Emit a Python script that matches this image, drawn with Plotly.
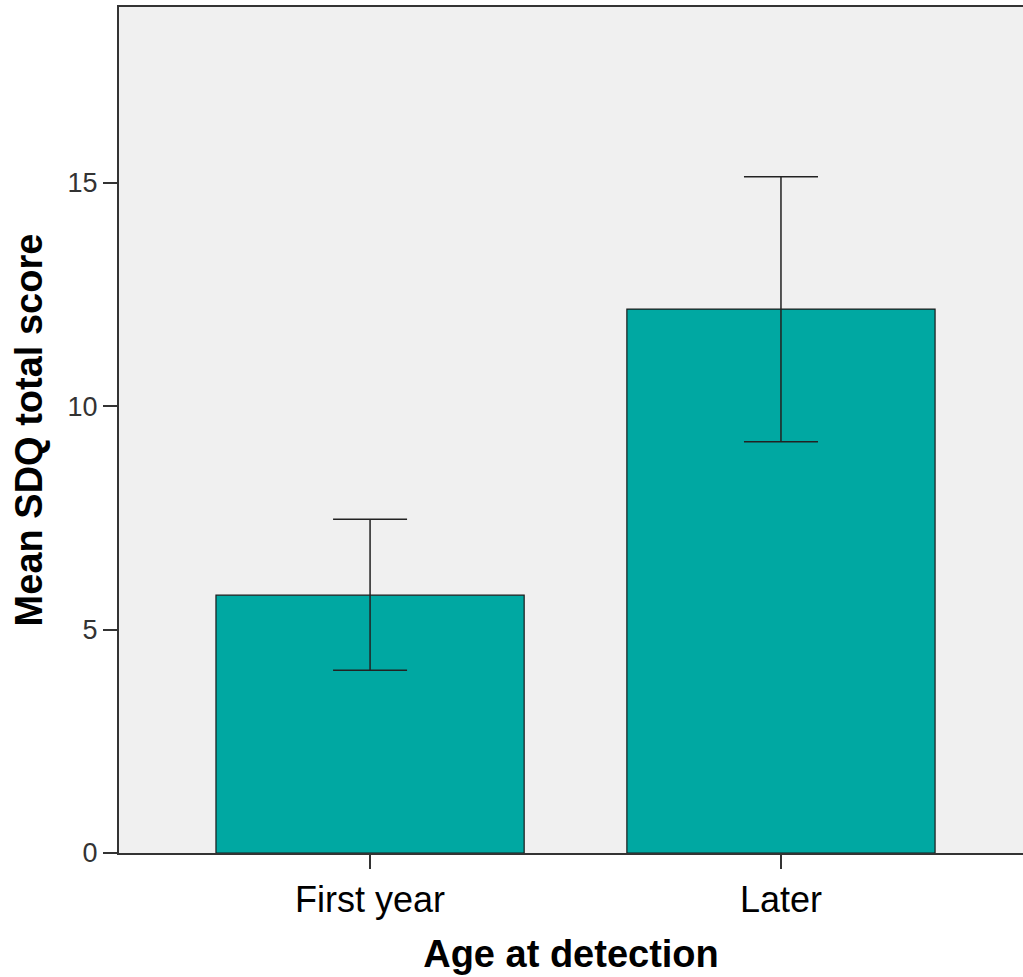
import plotly.graph_objects as go

categories = ["First year", "Later"]
means = [5.77, 12.17]
upper = [7.47, 15.13]
lower = [4.09, 9.20]

err_plus = [u - m for u, m in zip(upper, means)]
err_minus = [m - l for m, l in zip(means, lower)]

fig = go.Figure()
fig.add_trace(go.Bar(
    x=categories, y=means, width=0.75,
    marker=dict(color="#00A8A2", line=dict(color="#1a1a1a", width=1.2)),
    error_y=dict(type="data", symmetric=False, array=err_plus, arrayminus=err_minus,
                 color="#222222", thickness=1.5, width=37),
    hoverinfo="skip",
))

fig.update_layout(
    width=1023, height=977,
    margin=dict(l=119, r=0, t=7, b=124),
    paper_bgcolor="white", plot_bgcolor="#F0F0F0",
    showlegend=False,
    font=dict(family="Arial, Liberation Sans, sans-serif", color="black"),
)
fig.update_xaxes(
    type="category", range=[-0.611, 1.589],
    showline=True, linecolor="#333333", linewidth=2, mirror=True,
    ticks="outside", ticklen=14, tickcolor="#333333", tickwidth=1.5,
    tickfont=dict(size=36, color="black"),
    showgrid=False,
    title=dict(text="<b>Age at detection</b>", font=dict(size=38), standoff=21),
)
fig.update_yaxes(
    range=[0, 18.93], tickvals=[0, 5, 10, 15],
    showline=True, linecolor="#333333", linewidth=2,
    ticks="outside", ticklen=14, tickcolor="#333333", tickwidth=1.5,
    tickfont=dict(size=27, color="#333333"),
    showgrid=False, zeroline=False,
    title=dict(text="<b>Mean SDQ total score</b>", font=dict(size=38), standoff=13),
)

fig.write_html(
    "out.html",
    config={"displayModeBar": False},
    post_script="document.body.style.margin='0';document.body.style.overflow='hidden';",
)
